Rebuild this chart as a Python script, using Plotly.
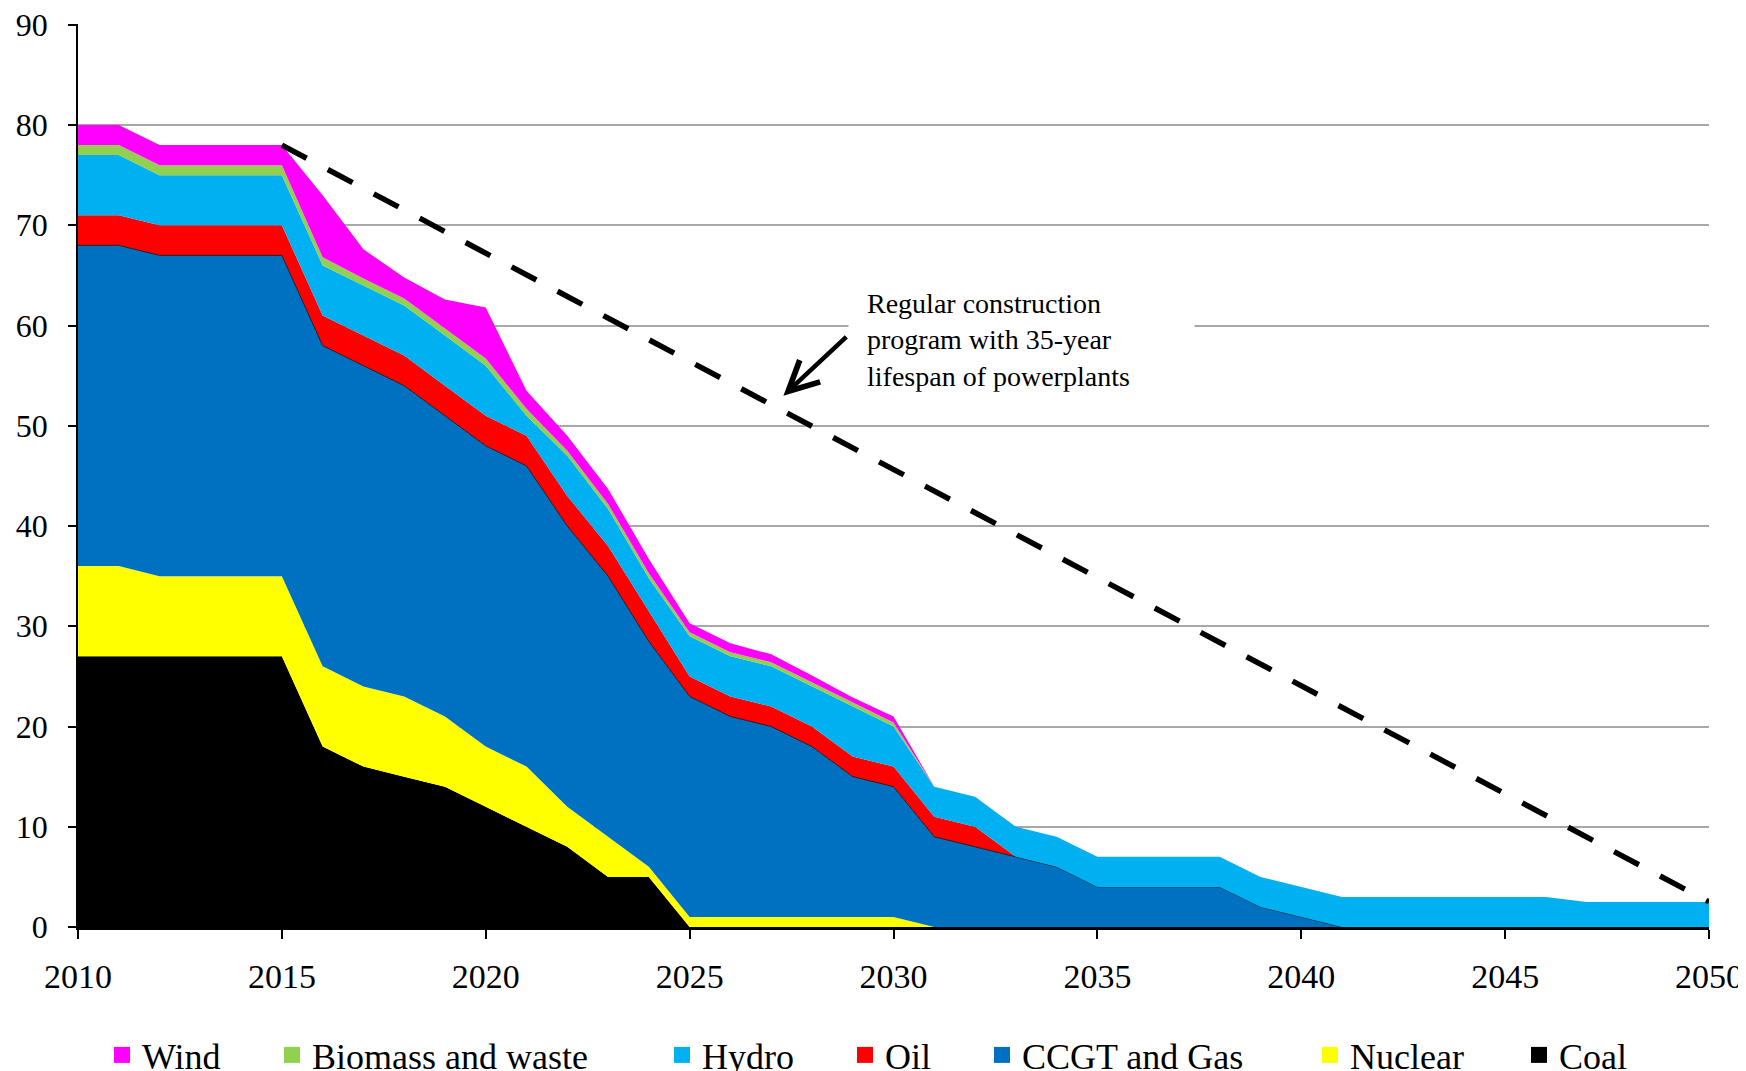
import plotly.graph_objects as go

# ---------------- data ----------------
years = list(range(2010, 2051))

coal = [27, 27, 27, 27, 27, 27, 18, 16, 15, 14, 12, 10, 8, 5, 5] + [0] * 26

nuclear = [9, 9, 8, 8, 8, 8, 8, 8, 8, 7, 6, 6, 4, 4, 1,
           1, 1, 1, 1, 1, 1] + [0] * 20

ccgt = [32, 32, 32, 32, 32, 32, 32, 32, 31, 30, 30, 30, 28, 26, 22.5,
        22, 20, 19, 17, 14, 13, 9, 8, 7, 6, 4, 4, 4, 4, 2, 1] + [0] * 10

oil = [3] * 15 + [2] * 8 + [0] * 18

hydro = [6, 6, 5, 5, 5, 5, 5, 5, 5, 5, 5, 2, 4, 3.7, 3.3,
         4, 4, 4, 4, 5, 4, 3, 3, 3, 3, 3, 3, 3, 3, 3, 3,
         3, 3, 3, 3, 3, 3, 2.5, 2.5, 2.5, 2.5]

biomass = [1, 1, 1, 1, 1, 1, 0.8, 0.7, 0.7, 0.7, 0.7, 0.7, 0.5, 0.5, 0.5,
           0.4, 0.4, 0.4, 0.4, 0.4, 0.4] + [0] * 20

wind = [2, 2, 2, 2, 2, 2, 6.2, 2.9, 2.1, 2.9, 5.1, 1.8, 1.5, 1.5, 1.4,
        0.9, 0.9, 0.8, 0.7, 0.5, 0.6] + [0] * 20

program_years = [2015, 2050]
program_values = [78, 2.5]

series_names = ["Coal", "Nuclear", "CCGT and Gas", "Oil", "Hydro",
                "Biomass and waste", "Wind"]
series_values = [coal, nuclear, ccgt, oil, hydro, biomass, wind]
series_colors = ["#000000", "#FFFF00", "#0070C0", "#FF0000", "#00B0F0",
                 "#92D050", "#FF00FF"]

legend_order = ["Wind", "Biomass and waste", "Hydro", "Oil", "CCGT and Gas",
                "Nuclear", "Coal"]
# left edge of each legend entry text, in pixels of the page
legend_text_px = [142, 312, 702, 885, 1022, 1350, 1559]

FONT = "Liberation Serif, Times New Roman, serif"
FIG_W, FIG_H = 1738, 1063   # the page body adds an 8 px margin around the div

# ---------------- figure ----------------
fig = go.Figure()

for name, vals, col in zip(series_names, series_values, series_colors):
    if name == "CCGT and Gas":
        line = dict(width=1, color="#1c1c1c")
    else:
        line = dict(width=0, color=col)
    fig.add_trace(go.Scatter(
        x=years, y=vals, name=name, stackgroup="one", mode="lines",
        line=line, fillcolor=col, showlegend=False,
    ))

fig.add_trace(go.Scatter(
    x=program_years, y=program_values, mode="lines",
    line=dict(color="black", width=5.5, dash="28px,24px"),
    showlegend=False, hoverinfo="skip",
))

color_of = dict(zip(series_names, series_colors))
for i, name in enumerate(legend_order):
    lg = "legend" if i == 0 else f"legend{i + 1}"
    fig.add_trace(go.Scatter(
        x=[None], y=[None], mode="markers", name=name, legend=lg,
        marker=dict(symbol="square", size=18, color=color_of[name]),
    ))

layout_legends = {}
for i, px in enumerate(legend_text_px):
    key = "legend" if i == 0 else f"legend{i + 1}"
    layout_legends[key] = dict(
        xref="container", yref="container",
        x=(px - 48) / FIG_W, xanchor="left",
        y=1 - 1047 / FIG_H, yanchor="middle",
        orientation="h", bgcolor="rgba(0,0,0,0)",
        font=dict(family=FONT, size=36, color="black"),
    )

fig.update_layout(
    width=FIG_W, height=FIG_H,
    margin=dict(l=70, r=37, t=16, b=144, pad=0, autoexpand=False),
    paper_bgcolor="white", plot_bgcolor="white",
    font=dict(family=FONT, color="black"),
    **layout_legends,
)

fig.update_xaxes(
    range=[2010, 2050], tickmode="array",
    tickvals=list(range(2010, 2051, 5)),
    ticks="outside", ticklen=9, tickwidth=1.5, tickcolor="black",
    showline=True, linecolor="black", linewidth=3,
    showgrid=False, zeroline=False,
    tickfont=dict(family=FONT, size=34, color="black"),
    ticklabelstandoff=8, ticklabeloverflow="allow",
    automargin=False,
)
fig.update_yaxes(
    range=[0, 90.08], tickmode="array",
    tickvals=list(range(0, 91, 10)),
    ticks="outside", ticklen=8, tickwidth=1.5, tickcolor="black",
    showline=True, linecolor="black", linewidth=1.5,
    showgrid=True, gridcolor="#A8A8A8", gridwidth=1.5, zeroline=False,
    tickfont=dict(family=FONT, size=32, color="black"),
    ticklabelstandoff=14, ticklabeloverflow="allow",
    automargin=False,
)

fig.add_annotation(
    x=2028.88, y=58.6, xref="x", yref="y",
    xanchor="left", yanchor="middle", align="left",
    text="Regular construction<br>program with 35-year<br>lifespan of powerplants",
    showarrow=False, bgcolor="white", width=309, borderpad=18,
    font=dict(family=FONT, size=28, color="black"),
)
fig.add_annotation(
    x=2027.3, y=53, ax=2028.88, ay=59, xref="x", yref="y",
    axref="x", ayref="y", text="", showarrow=True,
    arrowhead=5, arrowsize=1.3, arrowwidth=4.5, arrowcolor="black",
)

fig.write_html("out.html")
